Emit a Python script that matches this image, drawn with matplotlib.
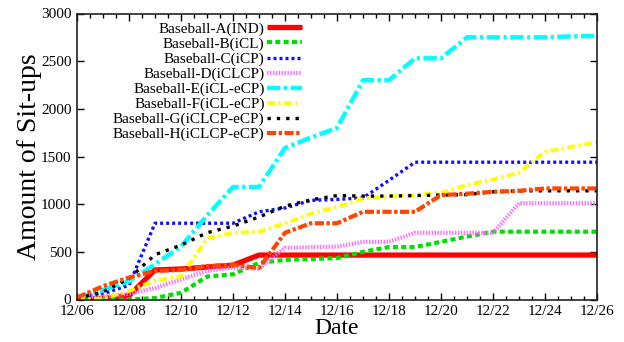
import numpy as np
import matplotlib.pyplot as plt
from matplotlib.ticker import MultipleLocator

# daily dates on the x axis
days = ['12/06', '12/07', '12/08', '12/09', '12/10', '12/11', '12/12',
        '12/13', '12/14', '12/15', '12/16', '12/17', '12/18', '12/19',
        '12/20', '12/21', '12/22', '12/23', '12/24', '12/25', '12/26']

labels = ['Baseball-A(IND)', 'Baseball-B(iCL)', 'Baseball-C(iCP)',
          'Baseball-D(iCLCP)', 'Baseball-E(iCL-eCP)', 'Baseball-F(iCL-eCP)',
          'Baseball-G(iCLCP-eCP)', 'Baseball-H(iCLCP-eCP)']

base_a = [0, 10, 40, 310, 320, 340, 360, 466, 466, 466, 466, 466, 466, 466,
          466, 466, 466, 466, 466, 466, 466]
base_b = [0, 0, 0, 15, 70, 240, 265, 385, 415, 425, 435, 500, 550, 550,
          605, 660, 711, 711, 711, 711, 711]
base_c = [20, 60, 150, 800, 800, 800, 800, 920, 960, 1040, 1050, 1065, 1250,
          1440, 1440, 1440, 1440, 1440, 1440, 1440, 1440]
base_d = [40, 30, 60, 120, 210, 300, 335, 325, 540, 550, 555, 605, 605, 700,
          700, 700, 700, 1010, 1010, 1010, 1010]
base_e = [20, 100, 190, 370, 555, 880, 1180, 1180, 1590, 1700, 1800, 2300,
          2300, 2530, 2530, 2750, 2750, 2750, 2750, 2760, 2765]
base_f = [0, 10, 90, 200, 240, 640, 700, 710, 800, 900, 970, 1060, 1080,
          1095, 1120, 1200, 1260, 1330, 1550, 1600, 1650]
base_g = [10, 80, 220, 470, 570, 700, 770, 865, 980, 1045, 1090, 1085, 1085,
          1090, 1095, 1100, 1130, 1140, 1140, 1140, 1140]
base_h = [20, 140, 230, 300, 310, 350, 365, 330, 700, 800, 800, 920, 920,
          920, 1095, 1110, 1130, 1140, 1165, 1165, 1165]

series = [base_a, base_b, base_c, base_d, base_e, base_f, base_g, base_h]

# line styles (gnuplot look)
colors = ['#ff0000', '#00e000', '#1010ff', '#ff70ff', '#00ffff', '#ffff00',
          '#000000', '#ff4500']
widths = [3.8, 3.0, 2.4, 3.0, 3.2, 2.8, 2.4, 3.0]
dashes = ['-', (0, (1.2, 0.8)), (0, (0.9, 0.9)), (0, (0.35, 0.35)),
          (0, (3.0, 0.8, 0.7, 0.8)), (0, (2.0, 0.9, 0.6, 0.9)),
          (0, (1.0, 1.8)), (0, (2.2, 0.6, 0.8, 0.6))]

plt.rcParams['font.family'] = ['Liberation Serif', 'DejaVu Serif']

fig = plt.figure(figsize=(6.24, 3.42), dpi=100)
ax = fig.add_axes([77 / 624, 42.5 / 342, 520 / 624, 286 / 342])

x = np.arange(len(days))
for vals, lab, c, lw, ls in zip(series, labels, colors, widths, dashes):
    ax.plot(x, vals, color=c, lw=lw, linestyle=ls, label=lab,
            dash_capstyle='butt', solid_capstyle='butt')

ax.set_xlim(0, len(days) - 1)
ax.set_ylim(0, 3000)
ax.set_xticks(x[::2])
ax.set_xticklabels(days[::2])
ax.xaxis.set_minor_locator(MultipleLocator(0.5))
ax.set_yticks(range(0, 3001, 500))

ax.tick_params(which='both', direction='in', top=True, right=True,
               labelsize=11, width=1, pad=4)
ax.tick_params(which='major', length=5)
ax.tick_params(which='minor', length=3)
for sp in ax.spines.values():
    sp.set_linewidth(1.2)
    sp.set_color('#222222')

ax.set_xlabel('Date', fontsize=17, labelpad=0)
ax.set_ylabel('Amount of Sit-ups', fontsize=20, labelpad=-1)

ax.legend(loc='upper right', bbox_to_anchor=(302 / 624, 1 - 22 / 342),
          bbox_transform=fig.transFigure, frameon=False, fontsize=11,
          markerfirst=False, handlelength=2.3, handletextpad=0.15,
          labelspacing=0.08, borderpad=0, borderaxespad=0)

fig.savefig('out.png', dpi=100)
